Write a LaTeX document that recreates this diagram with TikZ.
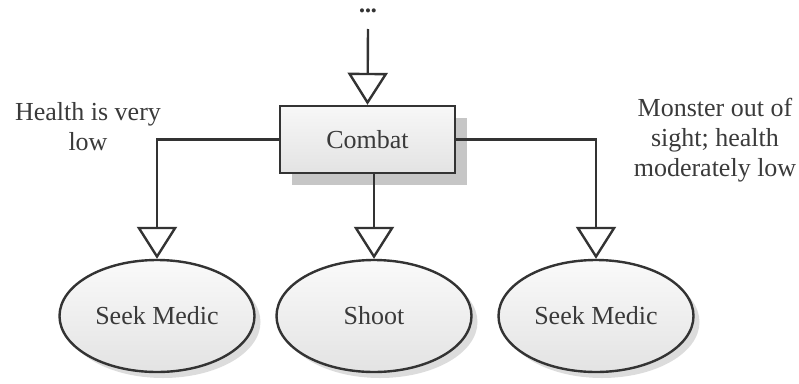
\documentclass[tikz,border=0pt]{standalone}
\usepackage{fontspec}
\setmainfont{Liberation Serif}
\usetikzlibrary{arrows.meta,shadows,shapes.geometric}
\definecolor{ink}{HTML}{333333}
\definecolor{txt}{HTML}{3A3A3A}
\begin{document}
\begin{tikzpicture}[x=1pt,y=-1pt,
  font=\fontsize{26}{30}\selectfont,
  conn/.style={draw=ink,line width=2.4pt},
  tri/.style={conn,-{Triangle[open,length=32pt,width=40pt,line width=2.4pt]}},
  statebox/.style={rectangle,draw=ink,line width=2.4pt,minimum width=175pt,minimum height=67pt,
    top color=gray!6,bottom color=gray!22,text=txt,
    drop shadow={shadow xshift=12pt,shadow yshift=-12pt,fill=gray!45,opacity=1}},
  stateoval/.style={ellipse,draw=ink,line width=2.4pt,minimum width=195pt,minimum height=112pt,inner sep=0pt,
    top color=gray!4,bottom color=gray!22,text=txt,
    drop shadow={shadow xshift=6pt,shadow yshift=-6pt,fill=gray!60,opacity=.45}},
  lbl/.style={text=txt,align=center,inner sep=0pt}]
\useasboundingbox (0,0) rectangle (799,383);
\node[lbl,font=\fontsize{17}{20}\selectfont,text=ink] (dots) at (368,13) {•••};
\coordinate (top) at (368,29);
\node[statebox] (combat) at (367.5,139.5) {Combat};
\node[stateoval] (sm1) at (157,316) {Seek Medic};
\node[stateoval] (shoot) at (374,316) {Shoot};
\node[stateoval] (sm2) at (596,316) {Seek Medic};
\draw[tri] (top) -- (combat.north);
\draw[tri] (combat.west) -| (sm1.north);
\draw[tri] (shoot.north |- combat.south) -- (shoot.north);
\draw[tri] (combat.east) -| (sm2.north);
\node[lbl] (l1) at (88,127) {Health is very\\low};
\node[lbl] (l2) at (715,140) {Monster out of\\sight; health\\moderately low};
\end{tikzpicture}
\end{document}
